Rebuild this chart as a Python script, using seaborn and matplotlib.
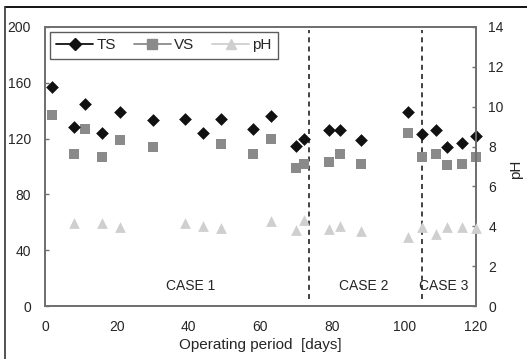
import numpy as np
import pandas as pd
import seaborn as sns
from matplotlib import pyplot as plt
from matplotlib.lines import Line2D

# values
ts_days = [2, 8, 11, 16, 21, 30, 39, 44, 49, 58, 63, 70, 72, 79, 82, 88, 101, 105, 109, 112, 116, 120]
ts_vals = [157, 128, 145, 124, 139, 133, 134, 124, 134, 127, 136, 115, 120, 126, 126, 119, 139, 123, 126, 114, 117, 122]

vs_days = [2, 8, 11, 16, 21, 30, 49, 58, 63, 70, 72, 79, 82, 88, 101, 105, 109, 112, 116, 120]
vs_vals = [137, 109, 127, 107, 119, 114, 116, 109, 120, 99, 102, 103, 109, 102, 124, 107, 109, 101, 102, 107]

ph_days = [8, 16, 21, 39, 44, 49, 63, 70, 72, 79, 82, 88, 101, 105, 109, 112, 116, 120]
ph_vals = [4.15, 4.15, 3.95, 4.15, 4.0, 3.9, 4.25, 3.8, 4.3, 3.85, 4.0, 3.75, 3.45, 3.95, 3.6, 3.95, 3.95, 3.9]

case_bounds = [73.6, 105]
case_labels = ['CASE 1', 'CASE 2', 'CASE 3']
case_x = [40.5, 88.7, 111]

ts_df = pd.DataFrame({'day': ts_days, 'val': ts_vals})
vs_df = pd.DataFrame({'day': vs_days, 'val': vs_vals})
ph_df = pd.DataFrame({'day': ph_days, 'val': ph_vals})

sns.set_style('white')
plt.rcParams['font.family'] = ['Liberation Sans', 'DejaVu Sans']

ts_col = '#111111'
vs_col = '#8a8a8a'
ph_col = '#cfcfcf'
spine_col = '#707070'

fig = plt.figure(figsize=(5.27, 3.59), dpi=100)
ax = fig.add_axes([0.0854, 0.1476, 0.8178, 0.7772])
ax2 = ax.twinx()

sns.scatterplot(x='day', y='val', data=vs_df, ax=ax, color=vs_col, marker='s', s=50,
                edgecolor=vs_col, linewidth=0, zorder=3, clip_on=False)
sns.scatterplot(x='day', y='val', data=ts_df, ax=ax, color=ts_col, marker='D', s=42,
                edgecolor=ts_col, linewidth=0, zorder=4, clip_on=False)
sns.scatterplot(x='day', y='val', data=ph_df, ax=ax2, color=ph_col, marker='^', s=60,
                edgecolor=ph_col, linewidth=0, zorder=3, clip_on=False)

for b in case_bounds:
    ax.plot([b, b], [5, 198], color='#222222', linestyle=(0, (3, 2.5)), linewidth=1.2)
for lab, cx in zip(case_labels, case_x):
    ax.text(cx, 14, lab, ha='center', va='center', fontsize=10)

ax.set_xlim(0, 120)
ax.set_ylim(0, 200)
ax2.set_ylim(0, 14)
ax.set_xticks(range(0, 121, 20))
ax.set_yticks(range(0, 201, 40))
ax2.set_yticks(range(0, 15, 2))

ax.set_xlabel('Operating period  [days]', fontsize=11, labelpad=3)
ax.set_ylabel('')
ax2.set_ylabel('pH', fontsize=11, rotation=90, va='center', ha='center')
ax2.yaxis.set_label_coords(1.093, 0.49)

ax.tick_params(axis='both', direction='in', length=3, width=1, color=spine_col,
               labelsize=10, pad=10)
ax.tick_params(axis='x', pad=10)
ax2.tick_params(axis='y', direction='in', length=3, width=1, color=spine_col,
                labelsize=10, pad=9)
for a in (ax, ax2):
    for sp in a.spines.values():
        sp.set_color(spine_col)
        sp.set_linewidth(1.3)

handles = [
    Line2D([], [], color=ts_col, marker='D', markersize=6, linewidth=1.3),
    Line2D([], [], color=vs_col, marker='s', markersize=7, linewidth=1.3),
    Line2D([], [], color=ph_col, marker='^', markersize=7, linewidth=1.3),
]
leg = ax.legend(handles, ['TS', 'VS', 'pH'], loc='upper left', ncol=3, fontsize=11,
                frameon=True, fancybox=False, edgecolor='#333333', handlelength=2.4,
                handletextpad=0.2, columnspacing=1.2, borderaxespad=0.35,
                bbox_to_anchor=(0.0, 1.0))
leg.get_frame().set_linewidth(1.0)

# outer frame of the figure image
fig.add_artist(Line2D([5 / 527, 1], [1 - 7 / 359, 1 - 7 / 359], color='black', linewidth=1.3,
                      transform=fig.transFigure))
fig.add_artist(Line2D([5 / 527, 5 / 527], [0, 1 - 7 / 359], color='#444444', linewidth=1.3,
                      transform=fig.transFigure))

fig.savefig('out.png', dpi=100)
